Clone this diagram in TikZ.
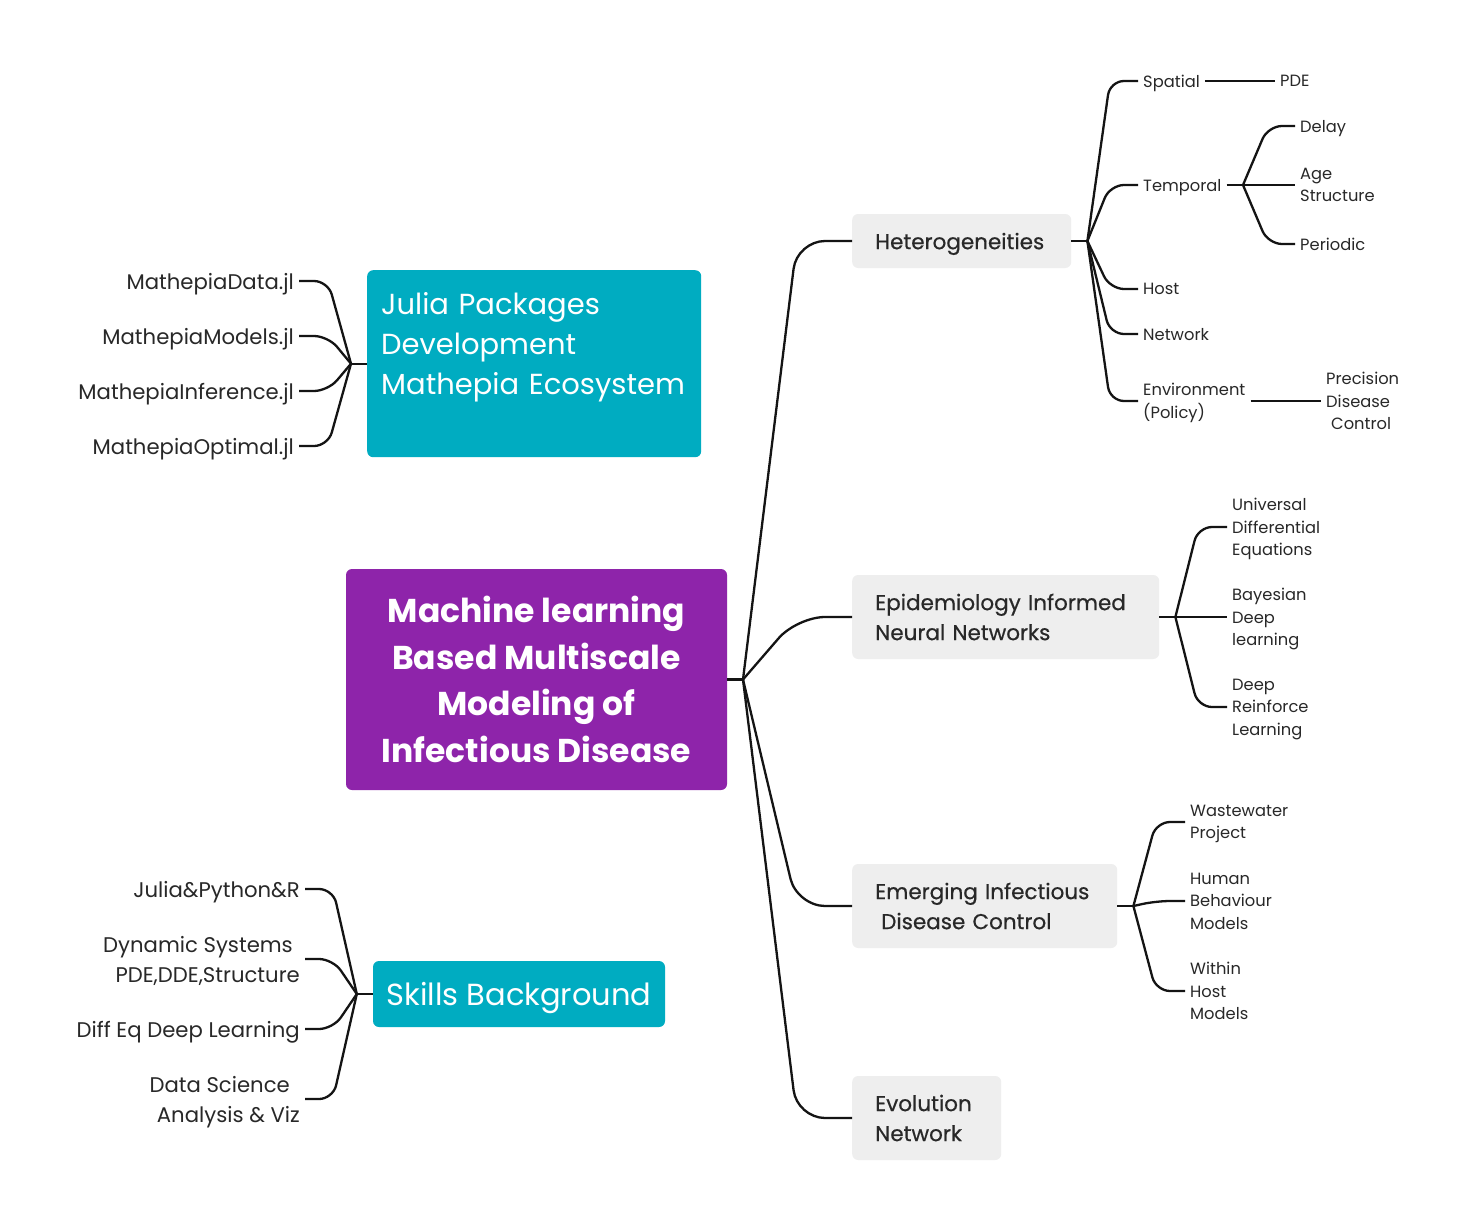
\documentclass[tikz,border=0pt]{standalone}
\usepackage{fontspec}
\setmainfont{Poppins}
\newfontfamily\topicfont{Poppins}[FakeBold=0.6]
\usetikzlibrary{positioning,calc}
\definecolor{mlbpurple}{RGB}{142,36,170}
\definecolor{jpteal}{RGB}{0,172,193}
\definecolor{topicgray}{RGB}{238,238,238}
\definecolor{inkdark}{RGB}{40,40,40}
\definecolor{linedark}{RGB}{20,20,20}

\begin{document}
\begin{tikzpicture}[x=1pt,y=-1pt,
	line/.style={draw=linedark,line width=2.3pt},
	branch/.style={line,rounded corners=28pt},
	twig/.style={line,rounded corners=14pt},
	topic/.style={fill=topicgray,rounded corners=6pt,anchor=west,inner xsep=23pt,
		align=left,text=inkdark,font=\topicfont\fontsize{21.5}{30}\selectfont},
	leaf/.style={anchor=west,inner xsep=5pt,inner ysep=0pt,align=left,text depth=0pt,
		text=inkdark,font=\fontsize{16.3}{22.5}\selectfont},
	lleaf/.style={anchor=east,inner xsep=5pt,inner ysep=0pt,align=right,text depth=0pt,
		text=inkdark,font=\fontsize{21.2}{30}\selectfont}]
	\fill[white] (0,0) rectangle (1475,1223);
	\useasboundingbox (0,0) rectangle (1475,1223);

	% central topic
	\node[fill=mlbpurple,rounded corners=6pt,minimum width=381pt,minimum height=221pt,
		align=center,text depth=0pt,text=white,font=\fontsize{33}{46.5}\bfseries]
		(mlb) at (536.5,679.5) {Machine learning\\Based Multiscale\\Modeling of\\Infectious Disease};
	\coordinate (mlbJ) at (743,679.5);
	\draw[line] (mlb.east) -- (mlbJ);

	% main branches
	\node[topic,text width=173pt,minimum height=54pt,text depth=0pt] (het) at (852,241)
		{Heterogeneities};
	\node[topic,text width=261pt,minimum height=84pt] (einn) at (852,617)
		{Epidemiology Informed\\Neural Networks};
	\node[topic,text width=219pt,minimum height=84pt] (eidc) at (852,906)
		{Emerging Infectious\\\hspace*{6pt}Disease Control};
	\node[topic,text width=103pt,minimum height=84pt] (evo) at (852,1118)
		{Evolution\\Network};
	\foreach \t in {het,einn,eidc,evo}
		\draw[branch] (mlbJ) -- ($(\t.west)+(-55,0)$) -- (\t.west);

	% heterogeneities
	\coordinate (hetJ) at ($(het.east)+(16,0)$);
	\draw[line] (het.east) -- (hetJ);
	\node[leaf] (spatial) at (1138,81) {Spatial};
	\node[leaf] (temporal) at (1138,185) {Temporal};
	\node[leaf] (host) at (1138,289) {Host};
	\node[leaf] (network) at (1138,334) {Network};
	\node[leaf] (envir) at (1138,401) {Environment\\(Policy)};
	\foreach \t in {spatial,temporal,host,network,envir}
		\draw[twig] (hetJ) -- ($(\t.west)+(-28,0)$) -- (\t.west);

	\node[leaf] (pde) at (1275,81) {PDE};
	\draw[line] (spatial.east) -- (pde.west);

	\coordinate (tempJ) at (1243,185);
	\draw[line] (temporal.east) -- (tempJ);
	\node[leaf] (delay) at (1295,126) {Delay};
	\node[leaf] (agest) at (1295,185) {Age\\Structure};
	\node[leaf] (periodic) at (1295,244) {Periodic};
	\foreach \t in {delay,agest,periodic}
		\draw[twig] (tempJ) -- ($(\t.west)+(-27,0)$) -- (\t.west);

	\node[leaf] (pdc) at (1321,401) {Precision\\Disease\\\hspace*{5pt}Control};
	\draw[line] (envir.east) -- (pdc.west);

	% epidemiology informed neural networks
	\coordinate (einnJ) at ($(einn.east)+(16,0)$);
	\draw[line] (einn.east) -- (einnJ);
	\node[leaf] (ude) at (1227,527) {Universal\\Differential\\Equations};
	\node[leaf] (bdl) at (1227,617) {Bayesian\\Deep\\learning};
	\node[leaf] (drl) at (1227,707) {Deep\\Reinforce\\Learning};
	\foreach \t in {ude,bdl,drl}
		\draw[twig] (einnJ) -- ($(\t.west)+(-29,0)$) -- (\t.west);

	% emerging infectious disease control
	\coordinate (eidcJ) at ($(eidc.east)+(16,0)$);
	\draw[line] (eidc.east) -- (eidcJ);
	\node[leaf] (wwp) at (1185,822) {Wastewater\\Project};
	\node[leaf] (hbm) at (1185,901) {Human\\Behaviour\\Models};
	\node[leaf] (whm) at (1185,991) {Within\\Host\\Models};
	\foreach \t in {wwp,hbm,whm}
		\draw[twig] (eidcJ) -- ($(\t.west)+(-29,0)$) -- (\t.west);

	% julia packages
	\node[fill=jpteal,rounded corners=6pt,anchor=north west,minimum width=334pt,
		minimum height=187pt,inner xsep=14pt,text width=306pt,align=left,
		text=white,font=\fontsize{29}{40}\selectfont]
		(jpd) at (367,270) {Julia Packages\\Development\\Mathepia Ecosystem\\~};
	\coordinate (jpdJ) at ($(jpd.west)+(-16,0)$);
	\draw[line] (jpd.west) -- (jpdJ);
	\node[lleaf] (mdata) at (299,281) {MathepiaData.jl};
	\node[lleaf] (mmodels) at (299,336) {MathepiaModels.jl};
	\node[lleaf] (minfer) at (299,391) {MathepiaInference.jl};
	\node[lleaf] (mopt) at (299,446) {MathepiaOptimal.jl};
	\foreach \t in {mdata,mmodels,minfer,mopt}
		\draw[twig] (jpdJ) -- ($(\t.east)+(29,0)$) -- (\t.east);

	% skills background
	\node[fill=jpteal,rounded corners=6pt,minimum width=292pt,minimum height=66pt,
		text depth=0pt,text=white,font=\fontsize{30.5}{34}\selectfont]
		(skb) at (519,994) {Skills Background};
	\coordinate (skbJ) at ($(skb.west)+(-16,0)$);
	\draw[line] (skb.west) -- (skbJ);
	\node[lleaf] (jpr) at (305,889) {Julia\&Python\&R};
	\node[lleaf] (dsys) at (305,959) {Dynamic Systems\hspace*{7pt}\\PDE,DDE,Structure};
	\node[lleaf] (dedl) at (305,1029) {Diff Eq Deep Learning};
	\node[lleaf] (dsci) at (305,1099) {Data Science\hspace*{10pt}\\Analysis \& Viz};
	\foreach \t in {jpr,dsys,dedl,dsci}
		\draw[twig] (skbJ) -- ($(\t.east)+(28,0)$) -- (\t.east);
\end{tikzpicture}
\end{document}
